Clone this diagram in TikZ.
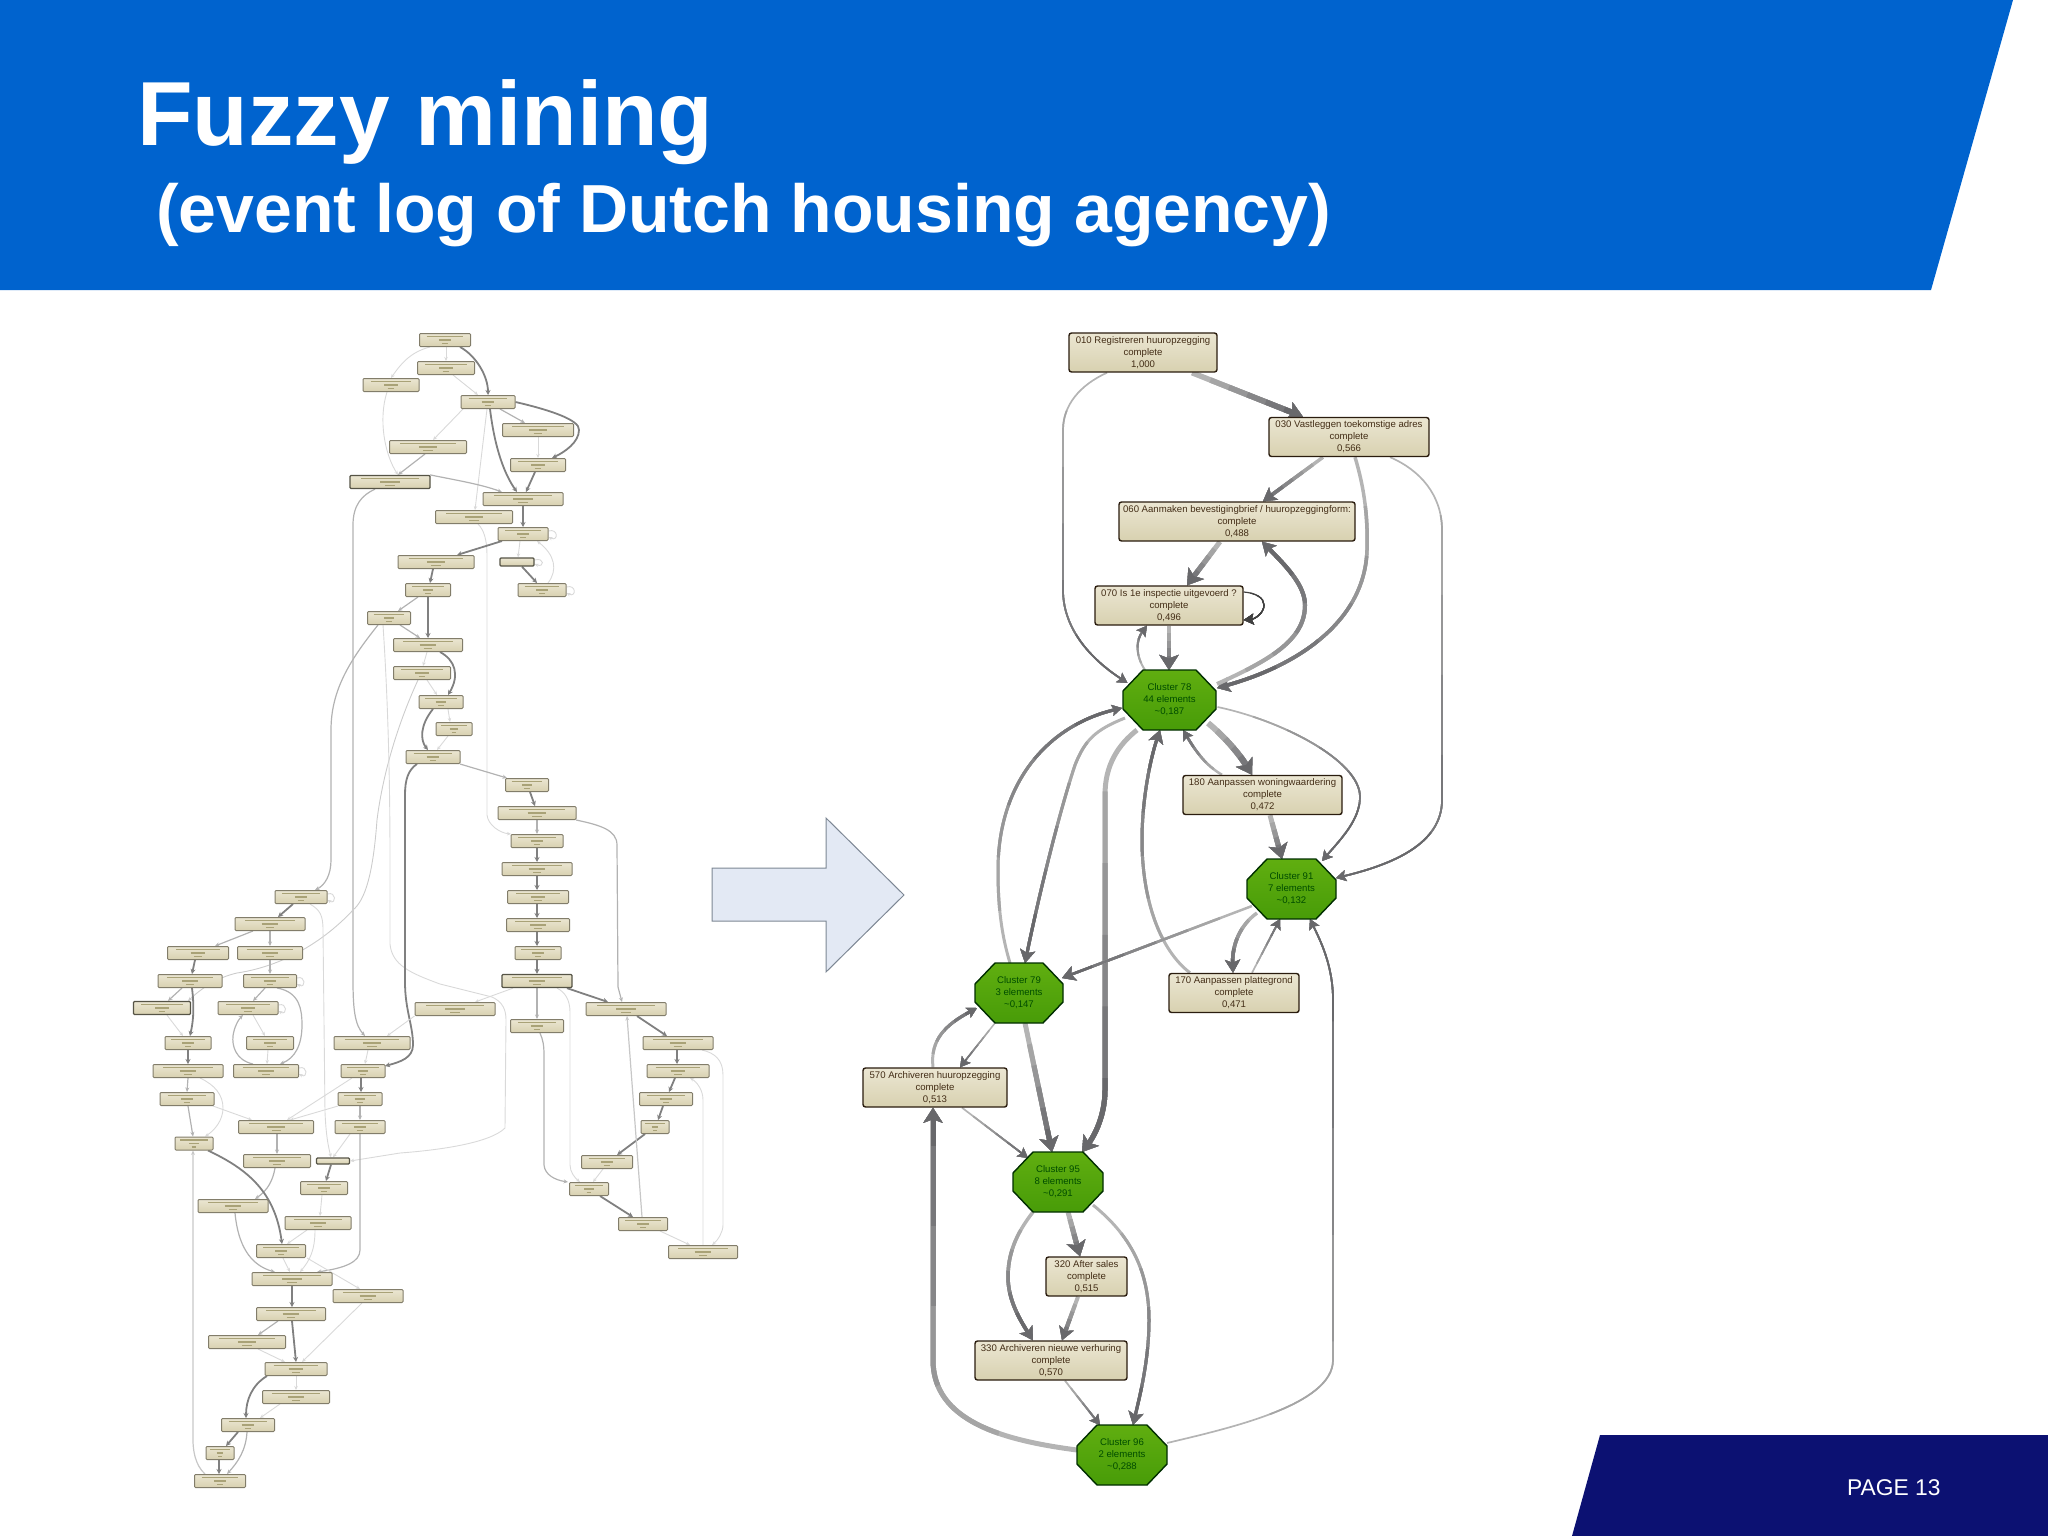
\documentclass[tikz,border=0pt]{standalone}
\usepackage{fontspec}
\setmainfont{Liberation Sans}
\usetikzlibrary{arrows.meta,calc,backgrounds}
\definecolor{hdrblue}{HTML}{0063CE}
\definecolor{navy}{HTML}{0C1172}
\definecolor{edgedark}{HTML}{68686B}
\definecolor{edgelight}{HTML}{B4B4B4}
\definecolor{beigeT}{HTML}{EBE6D2}
\definecolor{beigeB}{HTML}{D8D1B0}
\definecolor{greenT}{HTML}{60AE10}
\definecolor{greenB}{HTML}{489C08}
\definecolor{arrowfill}{HTML}{E3E9F4}
\definecolor{arrowline}{HTML}{7D8794}
\definecolor{smear}{HTML}{A9A277}
\makeatletter
\pgfdeclareshape{octo}{%
  \inheritsavedanchors[from=rectangle]%
  \inheritanchorborder[from=rectangle]%
  \inheritanchor[from=rectangle]{center}%
  \inheritanchor[from=rectangle]{north}%
  \inheritanchor[from=rectangle]{south}%
  \inheritanchor[from=rectangle]{east}%
  \inheritanchor[from=rectangle]{west}%
  \backgroundpath{%
    \southwest \pgf@xa=\pgf@x \pgf@ya=\pgf@y
    \northeast \pgf@xb=\pgf@x \pgf@yb=\pgf@y
    \pgfpathmoveto{\pgfqpoint{\pgf@xa}{\dimexpr\pgf@ya+21pt\relax}}%
    \pgfpathlineto{\pgfqpoint{\dimexpr\pgf@xa+20pt\relax}{\pgf@ya}}%
    \pgfpathlineto{\pgfqpoint{\dimexpr\pgf@xb-20pt\relax}{\pgf@ya}}%
    \pgfpathlineto{\pgfqpoint{\pgf@xb}{\dimexpr\pgf@ya+21pt\relax}}%
    \pgfpathlineto{\pgfqpoint{\pgf@xb}{\dimexpr\pgf@yb-21pt\relax}}%
    \pgfpathlineto{\pgfqpoint{\dimexpr\pgf@xb-20pt\relax}{\pgf@yb}}%
    \pgfpathlineto{\pgfqpoint{\dimexpr\pgf@xa+20pt\relax}{\pgf@yb}}%
    \pgfpathlineto{\pgfqpoint{\pgf@xa}{\dimexpr\pgf@yb-21pt\relax}}%
    \pgfpathclose}%
}
\makeatother
\newcommand{\fedge}[4]{%
  \foreach \i in {0,...,5}{%
    \pgfmathsetmacro\off{\i*#3/6+0.01}%
    \pgfmathtruncatemacro\mx{\i*20}%
    \draw[line width=#1pt,draw=edgedark!\mx!edgelight,#2,dash pattern=on 0pt off \off pt on 4000pt off 1pt] #4;
  }}
\tikzset{
  x=1pt,y=-1pt,
  rnode/.style={rectangle,rounded corners=2.5pt,draw=black!78!brown,line width=1.4pt,top color=beigeT,bottom color=beigeB,
    inner sep=0pt,align=center,text=black!65!brown,font=\fontsize{9.6}{12}\selectfont,minimum height=39pt},
  cnode/.style={shape=octo,outer sep=0pt,draw=black!70!green!60!black,line width=1.4pt,
    top color=greenT,bottom color=greenB,inner sep=0pt,align=center,text=green!30!black,font=\fontsize{9.6}{12}\selectfont,minimum width=90pt,minimum height=60pt},
  lnode/.style={rectangle,rounded corners=1pt,draw=black!40!beigeB,line width=1pt,top color=beigeT,bottom color=beigeB,inner sep=0pt,minimum height=13pt,
    path picture={
      \draw[line width=1.3pt,draw=smear] ($(path picture bounding box.west)!.14!(path picture bounding box.east)+(0,-3.4)$) -- ($(path picture bounding box.west)!.86!(path picture bounding box.east)+(0,-3.4)$);
      \draw[line width=1.3pt,draw=smear] ($(path picture bounding box.west)!.38!(path picture bounding box.east)+(0,0)$) -- ($(path picture bounding box.west)!.62!(path picture bounding box.east)+(0,0)$);
      \draw[line width=1.3pt,draw=smear] ($(path picture bounding box.west)!.44!(path picture bounding box.east)+(0,3.4)$) -- ($(path picture bounding box.west)!.56!(path picture bounding box.east)+(0,3.4)$);
    }},
  lnodeD/.style={lnode,draw=black!60!beigeB,line width=1.3pt},
  lL/.style={draw=black!15,line width=.9pt,-{Stealth[length=4pt,width=3.5pt]}},
  lM/.style={draw=black!30,line width=1.2pt,-{Stealth[length=4.5pt,width=4pt]}},
  lD/.style={draw=black!50,line width=1.8pt,-{Stealth[length=5pt,width=5pt]}},
  tipS/.style={-{Stealth[length=10pt,width=11pt,inset=2pt]}},
  tipM/.style={-{Stealth[length=13pt,width=15pt,inset=3pt]}},
  tipL/.style={-{Stealth[length=15pt,width=19pt,inset=3.5pt]}},
}
\begin{document}
\begin{tikzpicture}
\useasboundingbox (0,0) rectangle (2048,1536);
% header and footer
\path[fill=hdrblue] (0,0) -- (2013,0) -- (1931,290) -- (0,290) -- cycle;
\path[fill=navy] (1600,1435) -- (2048,1435) -- (2048,1536) -- (1572,1536) -- cycle;
\node[anchor=base west,inner sep=0,text=white,font=\fontsize{91}{91}\selectfont\bfseries] (title) at (137,146) {Fuzzy mining};
\node[anchor=base west,inner sep=0,text=white,font=\fontsize{68}{68}\selectfont\bfseries] (subtitle) at (156,232) {(event log of Dutch housing agency)};
\node[anchor=base west,inner sep=0,text=white,font=\fontsize{22.8}{24}\selectfont] (page) at (1847,1495) {PAGE 13};
% big arrow
\draw[draw=arrowline,line width=1pt,fill=arrowfill] (712,868) -- (826,868) -- (826,818) -- (904,895) -- (826,972) -- (826,921) -- (712,921) -- cycle;
% ---------- right graph nodes
\node[rnode,minimum width=148pt] (n010) at (1143,352.5) {010 Registreren huuropzegging\\complete\\1,000};
\node[rnode,minimum width=160pt] (n030) at (1349,437) {030 Vastleggen toekomstige adres\\complete\\0,566};
\node[rnode,minimum width=236pt] (n060) at (1237,521.5) {060 Aanmaken bevestigingbrief / huuropzeggingform:\\complete\\0,488};
\node[rnode,minimum width=148pt] (n070) at (1169,605.5) {070 Is 1e inspectie uitgevoerd ?\\complete\\0,496};
\node[rnode,minimum width=159pt] (n180) at (1262.5,795) {180 Aanpassen woningwaardering\\complete\\0,472};
\node[rnode,minimum width=130pt] (n170) at (1234,993) {170 Aanpassen plattegrond\\complete\\0,471};
\node[rnode,minimum width=144pt] (n570) at (935,1087.5) {570 Archiveren huuropzegging\\complete\\0,513};
\node[rnode,minimum width=81pt] (n320) at (1086.5,1276.5) {320 After sales\\complete\\0,515};
\node[rnode,minimum width=152pt] (n330) at (1051,1360.5) {330 Archiveren nieuwe verhuring\\complete\\0,570};
\node[cnode,minimum width=93pt] (c78) at (1169.5,700) {Cluster 78\\44 elements\\\textasciitilde0,187};
\node[cnode,minimum width=89pt] (c91) at (1291.5,889) {Cluster 91\\7 elements\\\textasciitilde0,132};
\node[cnode,minimum width=88pt] (c79) at (1019,993) {Cluster 79\\3 elements\\\textasciitilde0,147};
\node[cnode] (c95) at (1058,1182) {Cluster 95\\8 elements\\\textasciitilde0,291};
\node[cnode] (c96) at (1122,1455) {Cluster 96\\2 elements\\\textasciitilde0,288};
% ---------- left graph nodes
\foreach \n/\x/\y/\w in {
 La/445/340/51, Lb/446/368/57, Lc/391/385/56, Ld/488/402/54, Le/538/430/71, Lf/428/447/77, Lg/538/465/55, Li/523/499/80,
 Lj/474/517/77, Lk/523/534/50, Ll/436/562/76, Ln/428/590/45, Lo/542/590/48, Lp/389/618/43, Lq/428/645/69, Lr/422/673/57,
 Ls/441/702/44, Lt/454/729/36, Lu/433/757/54, Lv/527/785/43, Lw/537/813/78, Lx/537/841/52, Ly/537/869/70, Lz/538/897/61,
 Laa/538/925/63, Lab/538/953/46, Lad/455/1009/80, Lae/537/1026/53, Laf/626/1009/80, Lag/678/1043/70, Lah/678/1071/62,
 Lai/666/1099/53, Laj/655/1127/28, Lak/607/1162/51, Lal/589/1189/39, Lam/643/1224/49, Lan/703/1252/69,
 Lba/301/897/52, Lbb/270/924/70, Lbc/198/953/61, Lbd/270/953/65, Lbe/190/981/64, Lbf/270/981/53, Lbh/248/1008/60,
 Lbi/188/1043/46, Lbj/270/1043/47, Lbk/372/1043/76, Lbm/188/1071/70, Lbn/266/1071/65, Lbo/363/1071/44, Lbp/187/1099/54,
 Lbq/360/1099/44, Lbr/276/1127/75, Lbs/360/1127/50, Lbt/194/1143.5/38, Lbu/277/1161/67, Lbw/324/1188/47, Lbx/233/1206/70,
 Lby/318/1223/66, Lbz/281/1251/49, Lca/292/1279/80, Lcb/368/1296/70, Lcc/291/1314/69, Lcd/247/1342/77, Lce/296/1369/62,
 Lcf/296/1397/67, Lcg/248/1425/53, Lch/220/1453/28, Lci/220/1481/51}
 {\node[lnode,minimum width=\w pt] (\n) at (\x,\y) {};}
\foreach \n/\x/\y/\w in {Lh/390/482/80, Lac/537/981/70, Lbg/162/1008/57}
 {\node[lnodeD,minimum width=\w pt] (\n) at (\x,\y) {};}
\node[lnodeD,minimum width=34pt,minimum height=8pt,path picture={}] (Lm) at (517,562) {};
\node[lnodeD,minimum width=33pt,minimum height=6pt,path picture={}] (Lbv) at (333,1161) {};
% ---------- edges behind the nodes
\begin{scope}[on background layer]
% right graph
\fedge{5.5}{tipL}{119}{(1192,0 |- n010.south) -- (1303,0 |- n030.north)}
\fedge{1.7}{tipS}{340}{(1107,0 |- n010.south) .. controls (1080,385) and (1063,405) .. (1063,430) -- (1063,590) .. controls (1063,635) and (1100,665) .. ([shift={(-42,-17)}]c78.center)}
\fedge{3.5}{tipM}{75}{(1323,0 |- n030.south) -- (1263,0 |- n060.north)}
\fedge{3.5}{tipM}{300}{(1355,0 |- n030.south) .. controls (1365,490) and (1368,520) .. (1367,550) .. controls (1365,620) and (1300,665) .. ([shift={(47.5,-12)}]c78.center)}
\fedge{1.7}{tipS}{480}{(1390,0 |- n030.south) .. controls (1420,470) and (1442,495) .. (1442,530) -- (1442,800) .. controls (1442,845) and (1390,865) .. ([shift={(44.5,-11)}]c91.center)}
\fedge{5}{tipL}{55}{(1220,0 |- n060.south) -- (1187,0 |- n070.north)}
\fedge{4}{tipM}{190}{([shift={(47.5,-16)}]c78.center) .. controls (1270,660) and (1305,640) .. (1305,605) .. controls (1305,585) and (1285,565) .. (1262,0 |- n060.south)}
\fedge{1.2}{tipS,draw=black!75}{40}{(n070.east |- 0,592) .. controls (1256,593) and (1264,598) .. (1264,605) .. controls (1264,613) and (1255,619) .. (n070.east |- 0,620)}
\fedge{4.5}{tipL}{45}{(1169,0 |- n070.south) -- (1169,0 |- c78.north)}
\fedge{2}{tipS}{48}{(1145,0 |- c78.north) .. controls (1135,655) and (1136,640) .. (1147,0 |- n070.south)}
\fedge{3}{tipS}{320}{(1010,0 |- c79.north) .. controls (1000,930) and (998,900) .. (998,870) .. controls (998,780) and (1050,725) .. ([shift={(-47.5,8)}]c78.center)}
\fedge{3}{tipM}{270}{([shift={(-44.5,18)}]c78.center) .. controls (1095,730) and (1085,740) .. (1075,765) .. controls (1060,810) and (1040,890) .. (1025,0 |- c79.north)}
\fedge{5}{tipL}{430}{(1137,0 |- c78.south) .. controls (1118,745) and (1105,765) .. (1105,795) -- (1105,1090) .. controls (1105,1115) and (1095,1135) .. (1082,0 |- c95.north)}
\fedge{3}{tipM}{260}{(1190,0 |- n170.north) .. controls (1160,950) and (1142,900) .. (1142,840) .. controls (1142,800) and (1150,760) .. (1160,0 |- c78.south)}
\fedge{2.5}{tipS}{60}{(1222,0 |- n180.north) .. controls (1205,765) and (1195,750) .. (1183,0 |- c78.south)}
\fedge{6}{tipL}{70}{([shift={(38.5,23)}]c78.center) .. controls (1225,737) and (1240,755) .. (1252,0 |- n180.north)}
\fedge{1.7}{tipS}{220}{([shift={(48,7)}]c78.center) .. controls (1280,720) and (1360,760) .. (1360,797) .. controls (1360,820) and (1340,840) .. ([shift={(30.5,-28)}]c91.center)}
\fedge{5}{tipL}{46}{(1270,0 |- n180.south) -- (1282,0 |- c91.north)}
\fedge{2.5}{tipM}{205}{([shift={(-39.5,17)}]c91.center) -- ([shift={(43,-15)}]c79.center)}
\fedge{3.5}{tipM}{65}{([shift={(-34.5,24)}]c91.center) .. controls (1240,925) and (1232,945) .. (1233,0 |- n170.north)}
\fedge{1.7}{tipS}{62}{(1252,0 |- n170.north) -- (1280,0 |- c91.south)}
\fedge{1.7}{tipS}{640}{([shift={(45,-12)}]c96.center) .. controls (1230,1428) and (1333,1405) .. (1333,1360) -- (1333,1000) .. controls (1333,965) and (1320,940) .. (1310,0 |- c91.south)}
\fedge{5}{tipL}{130}{(1025,0 |- c79.south) -- (1052,0 |- c95.north)}
\fedge{1.5}{tipS}{55}{(995,0 |- c79.south) -- (960,0 |- n570.north)}
\fedge{3}{tipS}{80}{(933,0 |- n570.north) .. controls (930,1040) and (945,1025) .. ([shift={(-42,15)}]c79.center)}
\fedge{1.7}{tipS}{85}{(962,0 |- n570.south) -- ([shift={(-30,-24)}]c95.center)}
\fedge{5}{tipL}{480}{([shift={(-45,-5)}]c96.center) .. controls (1000,1440) and (933,1420) .. (933,1360) -- (933,0 |- n570.south)}
\fedge{5}{tipL}{46}{(1068,0 |- c95.south) -- (1080,0 |- n320.north)}
\fedge{3.5}{tipM}{130}{(1033,0 |- c95.south) .. controls (1015,1235) and (1008,1255) .. (1008,1277) .. controls (1008,1300) and (1020,1320) .. (1033,0 |- n330.north)}
\fedge{4}{tipM}{48}{(1078,0 |- n320.south) -- (1062,0 |- n330.north)}
\fedge{3}{tipM}{240}{([shift={(35,23)}]c95.center) .. controls (1130,1235) and (1149,1270) .. (1149,1320) .. controls (1149,1360) and (1140,1395) .. (1133,0 |- c96.north)}
\fedge{1.8}{tipS}{57}{(1065,0 |- n330.south) -- (1100,0 |- c96.north)}
% left graph, upper part
\draw[lL] (446,0 |- La.south) -- (446,0 |- Lb.north);
\draw[lL] (430,0 |- La.south) .. controls (410,352) and (400,365) .. (391,0 |- Lc.north);
\draw[lL] (453,0 |- Lb.south) -- (478,0 |- Ld.north);
\draw[lD] (460,0 |- La.south) .. controls (475,355) and (488,375) .. (488,0 |- Ld.north);
\draw[lL] (387,0 |- Lc.south) .. controls (378,420) and (385,455) .. (398,0 |- Lh.north);
\draw[lL] (463,0 |- Ld.south) -- (433,0 |- Lf.north);
\draw[lM] (500,0 |- Ld.south) -- (525,0 |- Le.north);
\draw[lD] (Ld.east) .. controls (550,410) and (580,420) .. (579,430) .. controls (579,442) and (565,452) .. (552,0 |- Lg.north);
\draw[lL] (538,0 |- Le.south) -- (538,0 |- Lg.north);
\draw[lD] (490,0 |- Ld.south) .. controls (495,450) and (505,475) .. (517,0 |- Li.north);
\draw[lL] (487,0 |- Ld.south) -- (475,0 |- Lj.north);
\draw[lM] (425,0 |- Lf.south) -- (398,0 |- Lh.north);
\draw[lD] (535,0 |- Lg.south) -- (526,0 |- Li.north);
\draw[lM] (430,0 |- Lh.north) .. controls (455,480) and (480,484) .. (502,0 |- Li.north);
\draw[lD] (523,0 |- Li.south) -- (523,0 |- Lk.north);
\draw[lM] (375,0 |- Lh.south) .. controls (362,495) and (353,505) .. (353,525) -- (353,980) .. controls (353,1010) and (355,1025) .. (365,0 |- Lbk.north);
\draw[lM] (378,0 |- Lp.south) .. controls (350,660) and (331,690) .. (331,730) -- (331,860) .. controls (331,875) and (325,885) .. (315,0 |- Lba.north);
\draw[lL] (478,0 |- Lj.south) .. controls (484,530) and (487,540) .. (487,555) -- (487,815) .. controls (488,825) and (500,833) .. (511,0 |- Lx.north);
\draw[lD] (502,0 |- Lk.south) -- (457,0 |- Ll.north);
\draw[lL] ([yshift=3pt]Lk.east) .. controls +(10,-3) and +(10,5) .. ([yshift=-3pt]Lk.east);
\draw[lL] ([yshift=2pt]Lm.east) .. controls +(10,-3) and +(10,4) .. ([yshift=-2pt]Lm.east);
\draw[lL] ([yshift=3pt]Lo.east) .. controls +(10,-3) and +(10,5) .. ([yshift=-3pt]Lo.east);
\draw[lL] (520,0 |- Lk.south) -- (518,0 |- Lm.north);
\draw[lD] (522,0 |- Lm.south) -- (537,0 |- Lo.north);
\draw[lL] (548,0 |- Lo.north) .. controls (558,570) and (555,555) .. (537,0 |- Lk.south);
\draw[lD] (433,0 |- Ll.south) -- (430,0 |- Ln.north);
\draw[lM] (418,0 |- Ln.south) -- (398,0 |- Lp.north);
\draw[lD] (428,0 |- Ln.south) -- (428,0 |- Lq.north);
\draw[lM] (400,0 |- Lp.south) -- (420,0 |- Lq.north);
\draw[lL] (427,0 |- Lq.south) -- (423,0 |- Lr.north);
\draw[lD] (440,0 |- Lq.south) .. controls (455,660) and (460,675) .. (448,0 |- Ls.north);
\draw[lL] (427,0 |- Lr.south) -- (437,0 |- Ls.north);
\draw[lD] (433,0 |- Ls.south) .. controls (420,725) and (420,740) .. (428,0 |- Lu.north);
\draw[lL] (448,0 |- Lt.south) -- (437,0 |- Lu.north);
\draw[lL] (448,0 |- Ls.south) -- (450,0 |- Lt.north);
\draw[lL,draw=black!20] (418,0 |- Lr.south) .. controls (395,730) and (382,780) .. (377,820) .. controls (373,875) and (365,900) .. (353,910) .. controls (330,935) and (290,965) .. (237,973) .. controls (215,978) and (200,990) .. (188,0 |- Lbg.north);
\draw[lL] (383,0 |- Lp.south) .. controls (388,700) and (390,780) .. (390,860) -- (390,944) .. controls (392,965) and (410,973) .. (440,984) -- (492,997) .. controls (503,1002) and (506,1010) .. (506,1020) -- (505,1128) .. controls (490,1143) and (440,1150) .. (400,1153) -- (Lbv.east);
\draw[lM] (460,0 |- Lu.south) -- (507,0 |- Lv.north);
\draw[lD] (417,0 |- Lu.south) .. controls (408,770) and (405,780) .. (405,795) -- (405,982) .. controls (405,1010) and (413,1025) .. (413,1045) .. controls (413,1058) and (400,1062) .. (385,1066);
% right column
\draw[lD] (530,0 |- Lv.south) -- (535,0 |- Lw.north);
\draw[lM] (537,0 |- Lw.south) -- (537,0 |- Lx.north);
\draw[lD] (537,0 |- Lx.south) -- (537,0 |- Ly.north);
\draw[lD] (537,0 |- Ly.south) -- (537,0 |- Lz.north);
\draw[lD] (537,0 |- Lz.south) -- (537,0 |- Laa.north);
\draw[lD] (537,0 |- Laa.south) -- (537,0 |- Lab.north);
\draw[lD] (537,0 |- Lab.south) -- (537,0 |- Lac.north);
\draw[lM] (576,0 |- Lw.south) .. controls (600,825) and (617,830) .. (617,845) -- (618,987) -- (622,0 |- Laf.north);
\draw[lL] (513,0 |- Lac.south) -- (475,0 |- Lad.north);
\draw[lM] (537,0 |- Lac.south) -- (537,0 |- Lae.north);
\draw[lD] (567,0 |- Lac.south) -- (608,0 |- Laf.north);
\draw[lL] (557,0 |- Lac.south) .. controls (565,992) and (570,1000) .. (570,1012) -- (570,1165) .. controls (570,1172) and (575,1178) .. (580,0 |- Lal.north);
\draw[lM] (540,0 |- Lae.south) .. controls (543,1040) and (544,1045) .. (544,1055) -- (544,1165) .. controls (545,1175) and (555,1180) .. (568,0 |- Lal.north);
\draw[lL] (Lad.south west) -- (387,0 |- Lbk.north);
\draw[lD] (637,0 |- Laf.south) -- (667,0 |- Lag.north);
\draw[lD] (677,0 |- Lag.south) -- (677,0 |- Lah.north);
\draw[lD] (675,0 |- Lah.south) -- (669,0 |- Lai.north);
\draw[lD] (663,0 |- Lai.south) -- (658,0 |- Laj.north);
\draw[lD] (645,0 |- Laj.south) -- (617,0 |- Lak.north);
\draw[lL] (603,0 |- Lak.south) -- (593,0 |- Lal.north);
\draw[lD] (600,0 |- Lal.south) -- (633,0 |- Lam.north);
\draw[lM,draw=black!22] (642,0 |- Lam.north) -- (627,0 |- Laf.south);
\draw[lL] (660,0 |- Lam.south) -- (690,0 |- Lan.north);
\draw[lL] (702,0 |- Lag.south) .. controls (715,1053) and (723,1060) .. (723,1075) -- (723,1225) .. controls (723,1232) and (718,1240) .. (712,0 |- Lan.north);
\draw[lL] (703,0 |- Lan.north) -- (703,1100) .. controls (703,1090) and (697,1082) .. (690,0 |- Lah.south);
% left column
\draw[lL] ([yshift=3pt]Lba.east) .. controls +(9,-3) and +(9,5) .. ([yshift=-3pt]Lba.east);
\draw[lD] (293,0 |- Lba.south) -- (278,0 |- Lbb.north);
\draw[lM] (253,0 |- Lbb.south) -- (215,0 |- Lbc.north);
\draw[lM] (270,0 |- Lbb.south) -- (270,0 |- Lbd.north);
\draw[lM] (270,0 |- Lbd.south) -- (270,0 |- Lbf.north);
\draw[lD] (195,0 |- Lbc.south) -- (192,0 |- Lbe.north);
\draw[lM] (182,0 |- Lbe.south) -- (168,0 |- Lbg.north);
\draw[lD] (192,0 |- Lbe.south) .. controls (194,1005) and (194,1018) .. (190,0 |- Lbi.north);
\draw[lL] (167,0 |- Lbg.south) -- (183,0 |- Lbi.north);
\draw[lM] (265,0 |- Lbf.south) -- (253,0 |- Lbh.north);
\draw[lL] ([yshift=3pt]Lbf.east) .. controls +(9,-3) and +(9,5) .. ([yshift=-3pt]Lbf.east);
\draw[lM] (277,0 |- Lbf.south) .. controls (300,992) and (302,1010) .. (302,1025) .. controls (302,1045) and (295,1058) .. (280,0 |- Lbn.north);
\draw[lL] ([yshift=3pt]Lbh.east) .. controls +(9,-3) and +(9,5) .. ([yshift=-3pt]Lbh.east);
\draw[lL] (253,0 |- Lbh.south) -- (265,0 |- Lbj.north);
\draw[lL] (268,0 |- Lbj.south) -- (267,0 |- Lbn.north);
\draw[lM] (253,0 |- Lbn.north) .. controls (235,1060) and (232,1045) .. (233,1036) .. controls (234,1028) and (238,1020) .. (243,0 |- Lbh.south);
\draw[lL] ([yshift=3pt]Lbn.east) .. controls +(9,-3) and +(9,5) .. ([yshift=-3pt]Lbn.east);
\draw[lD] (188,0 |- Lbi.south) -- (188,0 |- Lbm.north);
\draw[lM] (188,0 |- Lbm.south) -- (187,0 |- Lbp.north);
\draw[lL] (200,0 |- Lbm.south) .. controls (215,1085) and (223,1095) .. (223,1108) .. controls (223,1120) and (215,1130) .. (205,0 |- Lbt.north);
\draw[lM] (188,0 |- Lbp.south) -- (193,0 |- Lbt.north);
\draw[lL] (213,0 |- Lbp.south) -- (252,0 |- Lbr.north);
\draw[lL] (368,0 |- Lbk.south) -- (365,0 |- Lbo.north);
\draw[lD] (361,0 |- Lbo.south) -- (361,0 |- Lbq.north);
\draw[lM] (360,0 |- Lbq.south) -- (360,0 |- Lbs.north);
\draw[lL] (352,0 |- Lbo.south) -- (287,0 |- Lbr.north);
\draw[lL] (338,0 |- Lbq.south) -- (290,0 |- Lbr.north);
\draw[lM] (360,0 |- Lbs.south) -- (360,1250) .. controls (360,1262) and (345,1268) .. (317,0 |- Lca.north);
\draw[lM] (277,0 |- Lbr.south) -- (277,0 |- Lbu.north);
\draw[lM] (275,0 |- Lbu.south) .. controls (273,1180) and (268,1190) .. (255,0 |- Lbx.north);
\draw[lL] (350,0 |- Lbs.south) -- (333,0 |- Lbv.north);
\draw[lL] (310,0 |- Lba.south) .. controls (320,910) and (323,915) .. (323,930) -- (325,1112) .. controls (326,1135) and (328,1145) .. (331,0 |- Lbv.north);
\draw[lD] (331,0 |- Lbv.south) -- (326,0 |- Lbw.north);
\draw[lL] (322,0 |- Lbw.south) -- (320,0 |- Lby.north);
\draw[lL] (307,0 |- Lby.south) -- (287,0 |- Lbz.north);
\draw[lD] (208,0 |- Lbt.south) .. controls (245,1168) and (275,1190) .. (282,0 |- Lbz.north);
\draw[lM] (235,0 |- Lbx.south) .. controls (238,1245) and (250,1265) .. (275,0 |- Lca.north);
\draw[lL] (315,0 |- Lby.south) .. controls (315,1250) and (310,1260) .. (300,0 |- Lca.north);
\draw[lL] (283,0 |- Lbz.south) -- (290,0 |- Lca.north);
\draw[lL] (307,0 |- Lbz.south) -- (360,0 |- Lcb.north);
\draw[lD] (292,0 |- Lca.south) -- (292,0 |- Lcc.north);
\draw[lM] (278,0 |- Lcc.south) -- (258,0 |- Lcd.north);
\draw[lD] (292,0 |- Lcc.south) -- (296,0 |- Lce.north);
\draw[lL] (258,0 |- Lcd.south) -- (285,0 |- Lce.north);
\draw[lL] (362,0 |- Lcb.south) -- (302,0 |- Lce.north);
\draw[lD] (267,0 |- Lce.south) .. controls (252,1385) and (246,1400) .. (246,0 |- Lcg.north);
\draw[lL] (296,0 |- Lce.south) -- (296,0 |- Lcf.north);
\draw[lL] (280,0 |- Lcf.south) -- (260,0 |- Lcg.north);
\draw[lD] (238,0 |- Lcg.south) -- (226,0 |- Lch.north);
\draw[lM] (247,0 |- Lcg.south) .. controls (246,1450) and (238,1462) .. (227,0 |- Lci.north);
\draw[lD] (219,0 |- Lch.south) -- (219,0 |- Lci.north);
\draw[lM,draw=black!22] (205,0 |- Lci.north) .. controls (195,1465) and (193,1450) .. (193,1440) -- (193,0 |- Lbt.south);
\end{scope}
\end{tikzpicture}
\end{document}
